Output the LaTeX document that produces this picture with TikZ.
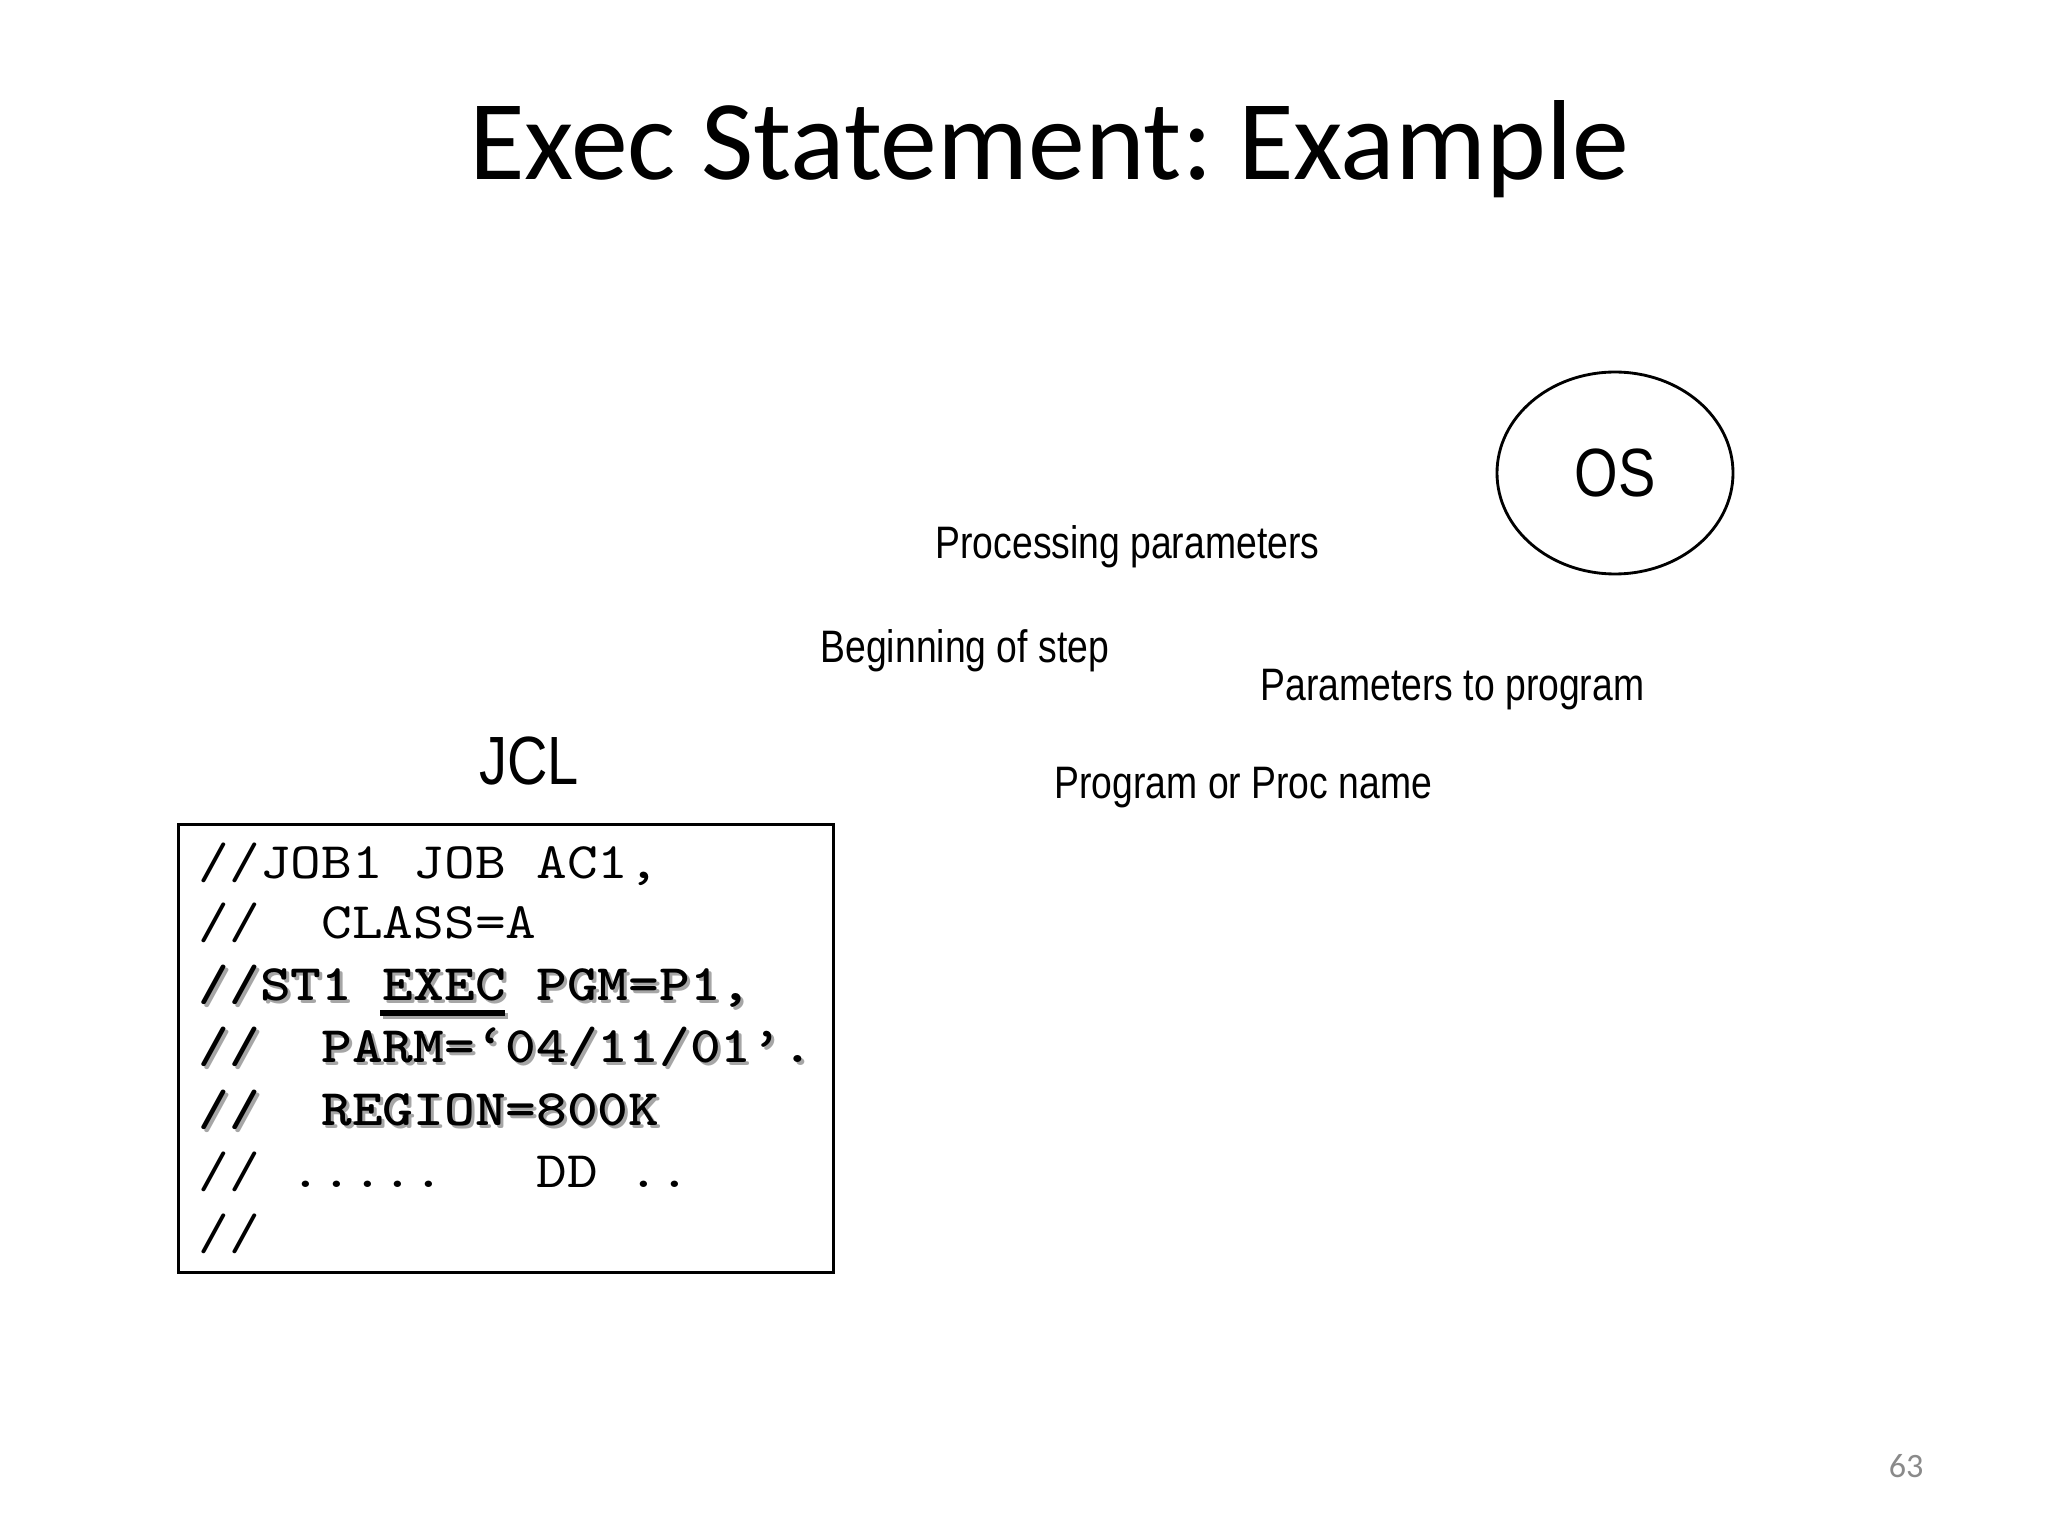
\documentclass[tikz,border=0pt]{standalone}
\usepackage{fontspec}
\setmainfont{Liberation Sans}
\newfontfamily\titlefont{Carlito}
\newfontfamily\narrowfont[FakeStretch=0.82]{Liberation Sans}
\newfontfamily\codefont[Extension=.otf, UprightFont=lmmono10-regular, BoldFont=lmmonolt10-bold, FakeStretch=1.143]{lmmono10-regular}
\usetikzlibrary{shapes.geometric}
\frenchspacing
\tikzset{
  titletext/.style={inner sep=0pt, anchor=base, font=\titlefont\fontsize{40}{48}\selectfont},
  label/.style={inner sep=0pt, anchor=base west, font=\narrowfont\fontsize{16}{19}\selectfont},
  biglabel/.style={inner sep=0pt, font=\narrowfont\fontsize{24}{29}\selectfont},
  code/.style={inner sep=0pt, anchor=base west, font=\codefont\fontsize{18}{22}\selectfont},
  boldcode/.style={code, font=\codefont\bfseries\fontsize{18}{22}\selectfont},
  shadowcode/.style={boldcode, text=black!35},
}
\begin{document}
\begin{tikzpicture}[x=0.3515625pt, y=-0.3515625pt]
\useasboundingbox[fill=white] (0,0) rectangle (2048,1536);

% title
\node[titletext] (title) at (1049,180) {Exec Statement: Example};

% OS ellipse
\node[ellipse, draw, line width=1pt, inner sep=0pt, minimum width=82.97pt, minimum height=71.0pt,
      font=\narrowfont\fontsize{24}{29}\selectfont] (os) at (1615,473) {OS};

% labels
\node[label] (proc) at (935,559) {Processing parameters};
\node[label] (begin) at (820,662) {Beginning of step};
\node[label] (parms) at (1260,700) {Parameters to program};
\node[label] (pgm) at (1054,798) {Program or Proc name};
\node[biglabel, anchor=base west] (jcl) at (479,784) {JCL};

% code box
\node[draw, line width=1pt, inner sep=0pt, anchor=north west, minimum width=230.27pt, minimum height=157.5pt] (box) at (177,823) {};

\node[code] (c1) at (198,878) {//JOB1 JOB AC1,};
\node[code] (c2) at (198,938) {//~~CLASS=A};

% shadows of the bold lines
\node[shadowcode] (s3) at (201,1003) {//ST1 EXEC PGM=P1,};
\node[shadowcode] (s4) at (201,1065) {//~~PARM=‘04/11/01’.};
\node[shadowcode] (s5) at (201,1128) {//~~REGION=800K};
\fill[black!35] (383,1013) rectangle (508,1019);

\node[boldcode] (c3) at (198,1000) {//ST1 EXEC PGM=P1,};
\node[boldcode] (c4) at (198,1062) {//~~PARM=‘04/11/01’.};
\node[boldcode] (c5) at (198,1125) {//~~REGION=800K};
\fill[black] (380,1010) rectangle (505,1016);

\node[code] (c6) at (198,1187) {//~.....~~~DD~..};
\node[code] (c7) at (198,1249) {//};

% page number
\node[inner sep=0pt, anchor=base east, text=black!46, font=\titlefont\fontsize{12}{14}\selectfont] (page) at (1924,1477) {63};
\end{tikzpicture}
\end{document}
